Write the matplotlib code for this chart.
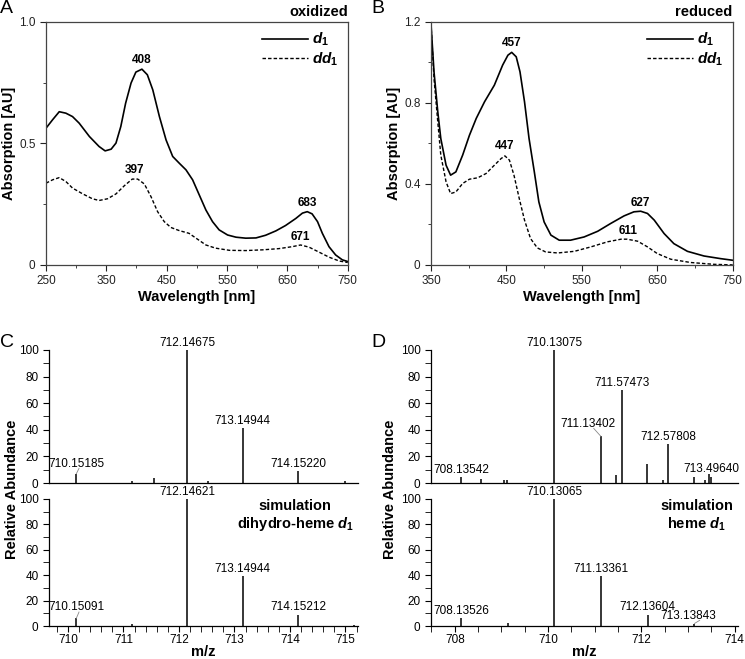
import matplotlib
matplotlib.use("Agg")
import matplotlib.pyplot as plt
from matplotlib.ticker import MultipleLocator, FixedLocator

plt.rcParams['font.family'] = ['Liberation Sans', 'DejaVu Sans']
plt.rcParams['mathtext.fontset'] = 'custom'
plt.rcParams['mathtext.it'] = 'Liberation Sans:italic:bold'
plt.rcParams['mathtext.rm'] = 'Liberation Sans:bold'

# Panel A - oxidized spectra
ox_wl = [250, 261, 272, 283, 294, 305, 322, 338, 348, 358, 366, 374, 382, 391, 399, 409, 418, 427,
         438, 449, 460, 471, 482, 493, 504, 515, 526, 537, 551, 565, 581, 598, 614, 631, 647, 664,
         675, 683, 691, 700, 708, 719, 730, 741, 750]
ox_d1 = [0.562, 0.597, 0.630, 0.624, 0.610, 0.583, 0.528, 0.487, 0.469, 0.476, 0.501, 0.569, 0.665,
         0.748, 0.793, 0.805, 0.782, 0.720, 0.610, 0.514, 0.446, 0.418, 0.391, 0.350, 0.288, 0.226,
         0.178, 0.144, 0.123, 0.114, 0.110, 0.111, 0.122, 0.140, 0.162, 0.191, 0.213, 0.219, 0.210,
         0.178, 0.130, 0.075, 0.041, 0.021, 0.014]
ox_wl2 = [250, 261, 272, 283, 294, 311, 327, 338, 352, 366, 380, 393, 402, 413, 424, 435, 446, 457,
          471, 487, 501, 515, 531, 554, 581, 609, 636, 658, 672, 686, 703, 719, 736, 750]
ox_dd1 = [0.336, 0.350, 0.359, 0.343, 0.316, 0.292, 0.272, 0.265, 0.272, 0.292, 0.326, 0.353, 0.353,
          0.333, 0.281, 0.219, 0.178, 0.154, 0.141, 0.130, 0.106, 0.082, 0.069, 0.060, 0.059, 0.062,
          0.067, 0.075, 0.082, 0.073, 0.052, 0.032, 0.016, 0.010]

# Panel B - reduced spectra
red_wl = [350, 354, 359, 363, 370, 376, 383, 392, 401, 410, 421, 434, 445, 452, 457, 463, 468, 474,
          480, 487, 493, 500, 509, 520, 535, 553, 571, 588, 606, 619, 628, 637, 646, 659, 672, 690,
          712, 734, 750]
red_d1 = [1.19, 0.953, 0.756, 0.624, 0.492, 0.443, 0.459, 0.542, 0.640, 0.723, 0.805, 0.887, 0.986,
          1.035, 1.049, 1.027, 0.953, 0.805, 0.624, 0.459, 0.311, 0.212, 0.147, 0.122, 0.122, 0.138,
          0.166, 0.204, 0.242, 0.262, 0.265, 0.254, 0.221, 0.155, 0.105, 0.067, 0.044, 0.031, 0.023]
red_wl2 = [350, 354, 359, 363, 370, 376, 383, 392, 401, 412, 423, 434, 443, 448, 454, 460, 467, 474,
           482, 491, 502, 518, 540, 562, 584, 602, 610, 624, 637, 650, 668, 694, 725, 750]
red_dd1 = [1.19, 0.920, 0.706, 0.542, 0.410, 0.352, 0.360, 0.402, 0.423, 0.430, 0.451, 0.492, 0.525,
           0.538, 0.517, 0.443, 0.328, 0.221, 0.130, 0.084, 0.064, 0.059, 0.067, 0.089, 0.114, 0.127,
           0.127, 0.117, 0.089, 0.056, 0.028, 0.012, 0.003, 0.0]

# Panel C - measured and simulated dihydro-heme d1
c_meas_mz = [710.15185, 711.16, 711.56, 712.14675, 712.53, 713.14944, 714.15220, 715.0]
c_meas_int = [7, 1.5, 4, 100, 1.5, 41, 9, 1.5]
c_sim_mz = [710.15091, 711.15, 712.14621, 713.14944, 714.15212, 715.16]
c_sim_int = [6, 2, 100, 39, 9, 1]

# Panel D - measured and simulated heme d1
d_meas_mz = [708.13542, 708.57, 709.05, 709.12, 710.13075, 711.13402, 711.46, 711.57473, 712.13,
             712.46, 712.57808, 713.13, 713.37, 713.45, 713.49640]
d_meas_int = [4.5, 3, 2, 2, 100, 35, 6, 70, 14, 2.5, 29, 4.5, 2, 7, 4.5]
d_sim_mz = [708.13526, 709.15, 710.13065, 711.13361, 712.13604, 713.13843]
d_sim_int = [6, 2.5, 100, 39, 9, 2]

fig = plt.figure(figsize=(7.45, 6.59), dpi=100)

def spectrum_axes(rect, wl1, y1, wl2, y2, xlim, ylim, ymaj, ymin, yfmt, state, peaks):
    ax = fig.add_axes(rect)
    ax.plot(wl1, y1, color='black', lw=1.2, label='$d_1$')
    ax.plot(wl2, y2, color='black', lw=1.0, ls=(0, (2.5, 1.5)), label='$dd_1$')
    ax.set_xlim(*xlim)
    ax.set_ylim(*ylim)
    ax.xaxis.set_major_locator(FixedLocator(list(range(xlim[0], xlim[1] + 1, 100))))
    ax.xaxis.set_minor_locator(FixedLocator(list(range(xlim[0] + 50, xlim[1], 100))))
    ax.yaxis.set_major_locator(MultipleLocator(ymaj))
    ax.yaxis.set_minor_locator(MultipleLocator(ymin))
    ax.yaxis.set_major_formatter(yfmt)
    ax.tick_params(which='both', direction='out', top=False, right=False, labelsize=8.5, colors='#222222')
    ax.tick_params(which='major', length=4)
    ax.tick_params(which='minor', length=2.5)
    for s in ax.spines.values():
        s.set_color('#444444')
        s.set_linewidth(0.9)
    ax.set_xlabel('Wavelength [nm]', fontsize=10.5, fontweight='bold', labelpad=2)
    ax.set_ylabel('Absorption [AU]', fontsize=10.5, fontweight='bold', labelpad=2)
    ax.text(1.0, 1.01, state, transform=ax.transAxes, ha='right', va='bottom',
            fontsize=10.5, fontweight='bold')
    ax.legend(loc='upper right', frameon=False, fontsize=11, handlelength=3.0,
              handletextpad=0.3, borderaxespad=0.2, labelspacing=0.15)
    for (px, py, txt) in peaks:
        ax.text(px, py, txt, ha='center', va='bottom', fontsize=8.5, fontweight='bold')
    return ax

spectrum_axes([0.0617, 0.598, 0.405, 0.369], ox_wl, ox_d1, ox_wl2, ox_dd1, (250, 750), (0, 1.0),
              0.5, 0.25, lambda v, p: '0' if v == 0 else f'{v:.1f}', 'oxidized',
              [(408, 0.82, '408'), (397, 0.365, '397'), (683, 0.228, '683'), (671, 0.09, '671')])
spectrum_axes([0.5785, 0.598, 0.405, 0.369], red_wl, red_d1, red_wl2, red_dd1, (350, 750), (0, 1.2),
              0.4, 0.2, lambda v, p: '0' if v == 0 else f'{v:.1f}', 'reduced',
              [(457, 1.065, '457'), (447, 0.558, '447'), (627, 0.278, '627'), (611, 0.14, '611')])


def ms_axes(rect, mz, inten, xlim, labels, bottom, xmaj=None, xmin=None):
    ax = fig.add_axes(rect)
    ax.vlines(mz, 0, inten, color='black', lw=1.1)
    ax.set_xlim(*xlim)
    ax.set_ylim(0, 100)
    ax.yaxis.set_major_locator(MultipleLocator(20))
    ax.yaxis.set_minor_locator(MultipleLocator(10))
    ax.spines['top'].set_visible(False)
    ax.spines['right'].set_visible(False)
    for s in ax.spines.values():
        s.set_linewidth(0.9)
    ax.tick_params(which='both', direction='out', labelsize=8.5)
    ax.tick_params(axis='y', which='major', length=4)
    ax.tick_params(axis='y', which='minor', length=4)
    if bottom:
        ax.xaxis.set_major_locator(MultipleLocator(xmaj))
        ax.xaxis.set_minor_locator(MultipleLocator(xmin))
        ax.tick_params(axis='x', which='major', length=4, pad=2)
        ax.tick_params(axis='x', which='minor', length=4)
        ax.set_xlabel('m/z', fontsize=10.5, fontweight='bold', labelpad=-1)
    else:
        ax.set_xticks([])
        ax.xaxis.set_minor_locator(plt.NullLocator())
    for (lx, ly, txt, px, py, ex) in labels:
        ax.text(lx, ly, txt, ha='center', va='bottom', fontsize=8.5)
        if px is not None:
            ax.plot([px, ex], [py, ly + 1], color='#888888', lw=0.6)
    return ax

c_lim = (709.66, 715.23)
d_lim = (707.49, 714.07)

ms_axes([0.0658, 0.267, 0.415, 0.202], c_meas_mz, c_meas_int, c_lim,
        [(710.15185, 10, '710.15185', 710.15185, 7, 710.2),
         (712.14675, 101, '712.14675', None, None, None),
         (713.14944, 42, '713.14944', None, None, None),
         (714.15220, 10, '714.15220', None, None, None)], False)
axc = ms_axes([0.0658, 0.050, 0.415, 0.193], c_sim_mz, c_sim_int, c_lim,
              [(710.15091, 10, '710.15091', 710.15091, 6, 710.2),
               (712.14621, 101, '712.14621', None, None, None),
               (713.14944, 40, '713.14944', None, None, None),
               (714.15212, 10, '714.15212', None, None, None)], True, 1, 0.2)
axc.text(0.796, 1.0, 'simulation\ndihydro-heme $d_1$', transform=axc.transAxes, ha='center',
         va='top', fontsize=10.5, fontweight='bold', multialignment='center', linespacing=1.2)

ms_axes([0.5785, 0.267, 0.412, 0.202], d_meas_mz, d_meas_int, d_lim,
        [(708.13542, 5.5, '708.13542', None, None, None),
         (710.85, 40, '711.13402', 711.13402, 35, 710.98),
         (710.13075, 101, '710.13075', None, None, None),
         (711.57473, 71, '711.57473', None, None, None),
         (712.57808, 30, '712.57808', None, None, None),
         (713.49640, 6, '713.49640', None, None, None)], False)
axd = ms_axes([0.5785, 0.050, 0.412, 0.193], d_sim_mz, d_sim_int, d_lim,
              [(708.15, 7, '708.13526', None, None, None),
               (710.13065, 101, '710.13065', None, None, None),
               (711.13361, 40, '711.13361', None, None, None),
               (712.13604, 10, '712.13604', None, None, None),
               (713.0, 3.5, '713.13843', 713.13843, 2, 713.25)], True, 2, 0.5)
axd.text(0.865, 1.0, 'simulation\nheme $d_1$', transform=axd.transAxes, ha='center',
         va='top', fontsize=10.5, fontweight='bold', multialignment='center', linespacing=1.2)

fig.text(0.016, 0.257, 'Relative Abundance', rotation=90, ha='center', va='center',
         fontsize=10.5, fontweight='bold')
fig.text(0.524, 0.257, 'Relative Abundance', rotation=90, ha='center', va='center',
         fontsize=10.5, fontweight='bold')

for lx, ly, letter in [(0.0, 1.0, 'A'), (0.499, 1.0, 'B'), (0.0, 0.493, 'C'), (0.499, 0.493, 'D')]:
    fig.text(lx, ly, letter, ha='left', va='top', fontsize=14)

fig.savefig('out.png', dpi=100)
